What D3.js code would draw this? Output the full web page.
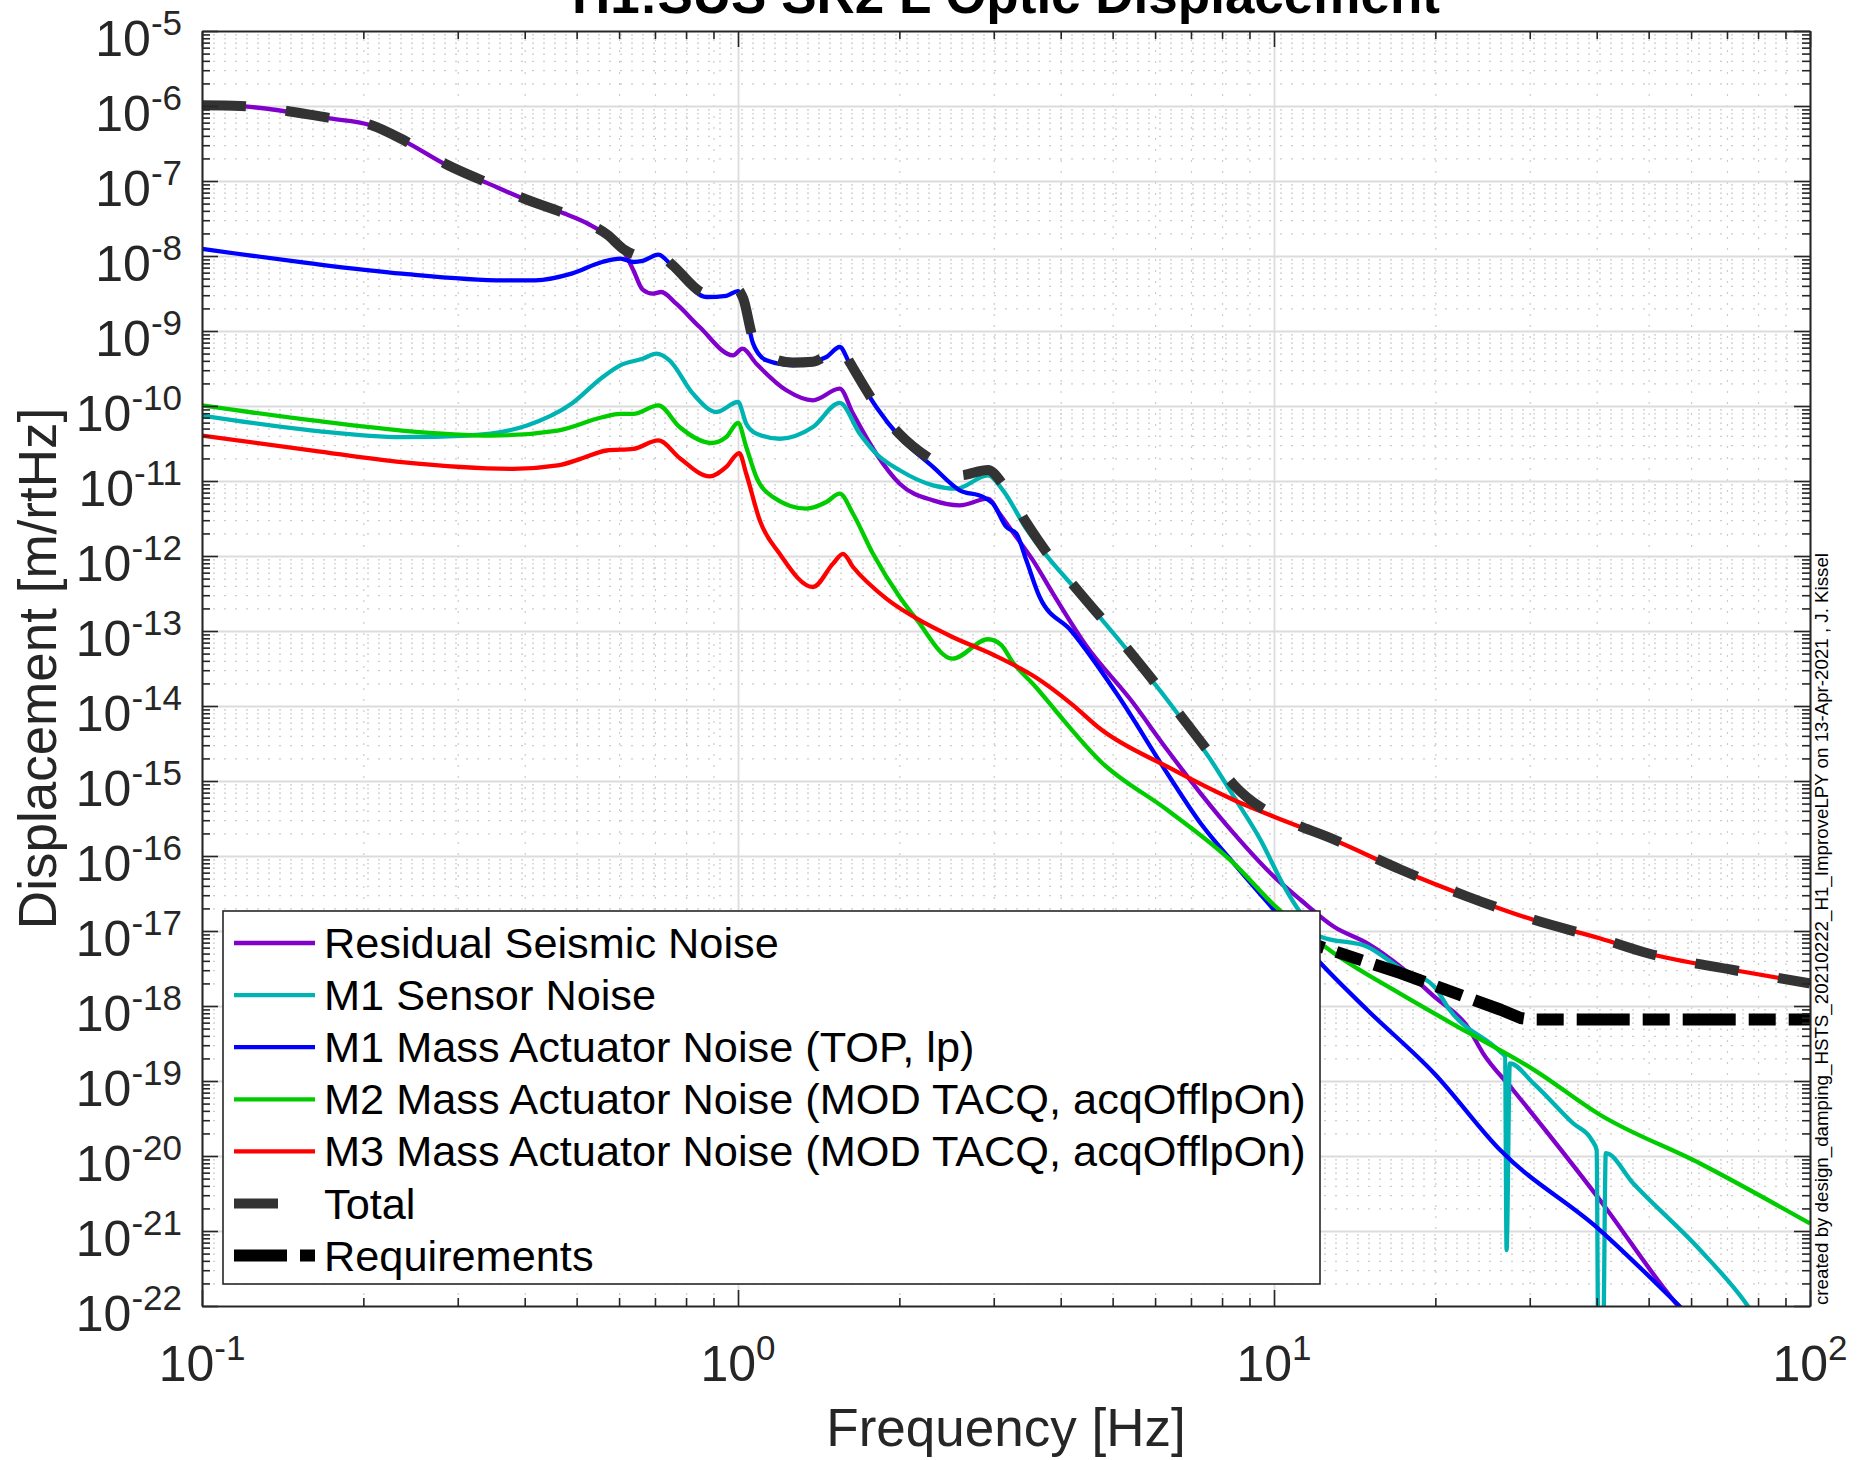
<!DOCTYPE html>
<html><head><meta charset="utf-8">
<script src="https://cdn.jsdelivr.net/npm/d3@7"></script>
<style>
html,body{margin:0;padding:0;background:#fff;}
svg{display:block;font-family:"Liberation Sans",Arial,Helvetica,sans-serif;}
</style></head><body>
<svg id="chart" width="1868" height="1460"></svg>
<script>
// ---------------- data ----------------
const titleText = "H1:SUS SR2 L Optic Displacement";
const xLabel = "Frequency [Hz]";
const yLabel = "Displacement [m/rtHz]";
const footText = "created by design_damping_HSTS_20210222_H1_ImproveLPY on 13-Apr-2021 , J. Kissel";

const xTickExps = [-1, 0, 1, 2];
const yTickExps = [-5,-6,-7,-8,-9,-10,-11,-12,-13,-14,-15,-16,-17,-18,-19,-20,-21,-22];

const legendLabels = [
  "Residual Seismic Noise",
  "M1 Sensor Noise",
  "M1 Mass Actuator Noise (TOP, lp)",
  "M2 Mass Actuator Noise (MOD TACQ, acqOfflpOn)",
  "M3 Mass Actuator Noise (MOD TACQ, acqOfflpOn)",
  "Total",
  "Requirements"
];

const seismicF = [0.1,0.118,0.173,0.206,0.240,0.286,0.340,0.404,0.474,0.527,0.569,0.615,0.638,0.664,0.693,0.719,0.767,0.848,0.979,1.019,1.082,1.231,1.380,1.548,1.639,1.811,2.003,2.311,2.592,2.927,3.077,3.306,3.551,3.870,4.467,5.408,6.324,7.295,8.414,10,11.22,12.94,14.93,17.22,19.91,22.96,24.55,27.93,40.55,55.59,60];
const seismicA = [1.04e-6,9.98e-7,6.82e-7,5.56e-7,3.33e-7,1.63e-7,9.44e-8,5.55e-8,3.68e-8,2.65e-8,1.89e-8,1.08e-8,6.46e-9,3.56e-9,3.15e-9,3.31e-9,2.31e-9,1.13e-9,4.74e-10,5.81e-10,3.66e-10,1.62e-10,1.19e-10,1.70e-10,7.91e-11,2.31e-11,9.20e-12,5.52e-12,4.74e-12,5.81e-12,3.66e-12,1.79e-12,8.75e-13,3.15e-13,6.31e-14,1.20e-14,2.59e-15,6.85e-16,2.00e-16,5.30e-17,2.59e-17,1.14e-17,6.85e-18,3.34e-18,1.33e-18,5.30e-19,2.34e-19,7.59e-20,2.59e-21,1.20e-22,6.31e-23];

const sensorF = [0.1,0.161,0.236,0.314,0.404,0.489,0.558,0.603,0.664,0.705,0.745,0.824,0.912,1.0,1.036,1.082,1.196,1.380,1.548,1.687,1.811,2.003,2.311,2.555,2.927,3.122,3.451,3.761,4.339,5.248,6.324,6.887,7.621,8.414,9.441,10.45,11.22,12.22,14.93,17.22,19.91,21.28,26.42,26.98,27.16,27.54,30.48,36.14,39.17,39.99,40.27,41.11,41.59,46.77,62.37,75.16,80];
const sensorA = [7.46e-11,4.71e-11,3.84e-11,4.04e-11,5.50e-11,1.07e-10,2.40e-10,3.48e-10,4.27e-10,4.99e-10,4.05e-10,1.46e-10,8.32e-11,1.13e-10,5.81e-11,4.28e-11,3.66e-11,5.25e-11,1.10e-10,4.28e-11,2.31e-11,1.39e-11,8.75e-12,7.91e-12,1.19e-11,7.52e-12,2.31e-12,1.02e-12,3.15e-13,6.31e-14,1.20e-14,5.30e-15,1.91e-15,6.18e-16,1.63e-16,3.90e-17,1.72e-17,8.39e-18,6.18e-18,3.16e-18,1.81e-18,8.85e-19,2.46e-19,2.11e-19,5.58e-22,1.72e-19,9.31e-20,2.73e-20,1.63e-20,1.20e-20,3.16e-23,3.16e-23,1.09e-20,4.33e-21,5.58e-22,1.20e-22,6.31e-23];

const m1F = [0.1,0.161,0.236,0.366,0.419,0.489,0.558,0.603,0.638,0.664,0.710,0.752,0.873,0.951,1.0,1.022,1.067,1.130,1.266,1.462,1.548,1.616,1.811,2.003,2.311,2.592,2.865,2.990,3.167,3.306,3.451,3.654,4.188,5.105,6.324,7.295,8.414,10,12.22,14.93,19.91,26.42,40.55,55.59,60];
const m1A = [1.25e-8,7.91e-9,5.82e-9,4.74e-9,4.74e-9,5.82e-9,8.32e-9,9.23e-9,8.32e-9,8.60e-9,1.04e-8,7.52e-9,2.84e-9,2.95e-9,3.41e-9,2.56e-9,6.78e-10,4.06e-10,3.48e-10,4.50e-10,6.12e-10,3.66e-10,9.70e-11,3.86e-11,1.54e-11,7.52e-12,6.12e-12,4.99e-12,2.44e-12,1.99e-12,8.75e-13,2.84e-13,1.00e-13,1.41e-14,1.26e-15,2.73e-16,7.98e-17,1.91e-17,3.71e-18,8.85e-19,1.26e-19,1.20e-20,1.03e-21,1.20e-22,7.0e-23];

const m2F = [0.1,0.161,0.236,0.346,0.461,0.558,0.603,0.638,0.710,0.778,0.891,0.951,1.0,1.036,1.082,1.162,1.341,1.462,1.548,1.639,1.786,2.003,2.15,2.512,2.927,3.1,3.243,3.597,3.9,4.753,6.324,8.414,10,12.94,17.22,22.96,30.55,40.55,62.37,100];
const m2A = [1.02e-10,6.41e-11,4.71e-11,4.04e-11,4.71e-11,7.08e-11,7.85e-11,7.85e-11,1.02e-10,5.25e-11,3.21e-11,3.86e-11,5.93e-11,2.84e-11,1.13e-11,6.12e-12,4.28e-12,5.25e-12,6.78e-12,3.66e-12,1.07e-12,2.84e-13,1.45e-13,4.27e-14,7.76e-14,6.5e-14,3.98e-14,1.78e-14,8.91e-15,1.81e-15,4.10e-16,7.98e-17,2.22e-17,5.04e-18,1.45e-18,4.47e-19,1.41e-19,3.55e-20,7.94e-21,1.26e-21];

const m3F = [0.1,0.161,0.236,0.381,0.461,0.508,0.569,0.638,0.710,0.78,0.885,0.951,1.005,1.036,1.098,1.196,1.380,1.504,1.570,1.639,1.891,2.239,2.512,3.0,3.597,4.188,4.753,6.324,8.414,10,12.94,17.22,22.96,30.55,40.64,50,71.94,100];
const m3A = [4.04e-11,2.55e-11,1.78e-11,1.45e-11,1.61e-11,1.97e-11,2.55e-11,2.68e-11,3.48e-11,2.00e-11,1.15e-11,1.54e-11,2.36e-11,1.25e-11,2.99e-12,1.07e-12,3.86e-13,7.91e-13,1.07e-12,7.13e-13,2.70e-13,1.26e-13,8.32e-14,4.79e-14,2.40e-14,1.07e-14,4.89e-15,1.55e-15,5.58e-16,3.34e-16,1.63e-16,6.50e-17,2.87e-17,1.40e-17,7.94e-18,5.01e-18,3.02e-18,2.00e-18];

const totalF = [0.1,0.118,0.173,0.206,0.240,0.286,0.340,0.404,0.474,0.527,0.569,0.615,0.646,0.664,0.710,0.752,0.873,0.951,1.0,1.022,1.067,1.130,1.266,1.380,1.462,1.548,1.616,1.811,2.003,2.311,2.592,2.927,3.122,3.451,3.761,4.339,5.248,6.324,7.621,8.414,9.441,10,12.94,17.22,22.96,30.55,40.64,50,71.94,100];
const totalA = [1.02e-6,1.0e-6,6.92e-7,5.62e-7,3.39e-7,1.66e-7,9.55e-8,5.62e-8,3.72e-8,2.69e-8,1.95e-8,1.20e-8,1.02e-8,9.6e-9,1.08e-8,7.76e-9,3.16e-9,3.1e-9,3.5e-9,2.75e-9,7.94e-10,4.8e-10,3.8e-10,3.9e-10,4.78e-10,6.45e-10,3.83e-10,1.02e-10,4.2e-11,1.86e-11,1.19e-11,1.4e-11,9.0e-12,2.79e-12,1.13e-12,3.25e-13,6.61e-14,1.26e-14,2.24e-15,8.91e-16,4.47e-16,3.55e-16,1.66e-16,6.61e-17,2.88e-17,1.41e-17,7.94e-18,5.01e-18,3.02e-18,2.0e-18];

const reqF = [10,12.22,17.22,26.49,28.84,29.99,100];
const reqA = [1.02e-17,6.17e-18,2.75e-18,8.91e-19,6.92e-19,6.61e-19,6.61e-19];

// ---------------- layout / styles ----------------
const W = 1868, H = 1460;
const plot = {left: 202, top: 31, right: 1810, bottom: 1306};
const axisColor = "#262626";

const series = [
  {f: seismicF, a: seismicA, color: "#8000cc", width: 4.3, dash: null, curve: d3.curveMonotoneX},
  {f: sensorF,  a: sensorA,  color: "#00b3b3", width: 4.3, dash: null, curve: d3.curveMonotoneX},
  {f: m1F,      a: m1A,      color: "#0000ff", width: 4.3, dash: null, curve: d3.curveMonotoneX},
  {f: m2F,      a: m2A,      color: "#00cc00", width: 4.3, dash: null, curve: d3.curveMonotoneX},
  {f: m3F,      a: m3A,      color: "#ff0000", width: 4.3, dash: null, curve: d3.curveMonotoneX},
  {f: totalF,   a: totalA,   color: "#333333", width: 10,  dash: "44,40", curve: d3.curveMonotoneX},
  {f: reqF,     a: reqA,     color: "#000000", width: 12,  dash: "53,13,27,13", curve: d3.curveLinear}
];

const svg = d3.select("#chart");
svg.append("rect").attr("width", W).attr("height", H).attr("fill", "#fff");

const x = d3.scaleLog().domain([0.1, 100]).range([plot.left, plot.right]);
const y = d3.scaleLog().domain([1e-22, 1e-5]).range([plot.bottom, plot.top]);

const xMajor = xTickExps.map(e => Math.pow(10, e));
const yMajor = yTickExps.map(e => Math.pow(10, e));
const xMinor = [];
for (let e = -1; e < 2; e++) for (let k = 2; k <= 9; k++) xMinor.push(k * Math.pow(10, e));
const yMinor = [];
for (let e = -22; e < -5; e++) for (let k = 2; k <= 9; k++) yMinor.push(k * Math.pow(10, e));

svg.append("defs").append("clipPath").attr("id", "plotClip")
  .append("rect").attr("x", plot.left).attr("y", plot.top)
  .attr("width", plot.right - plot.left).attr("height", plot.bottom - plot.top);

// ---------------- grid ----------------
function styleGrid(g, color, dash, w) {
  g.select(".domain").remove();
  g.selectAll(".tick line").attr("stroke", color).attr("stroke-width", w)
    .attr("stroke-dasharray", dash);
  g.selectAll(".tick text").remove();
}
const ph = plot.bottom - plot.top, pw = plot.right - plot.left;
svg.append("g").attr("transform", `translate(0,${plot.bottom})`)
  .call(d3.axisBottom(x).tickValues(xMinor).tickSize(-ph).tickFormat(""))
  .call(g => styleGrid(g, "#cccccc", "2,9", 1.2));
svg.append("g").attr("transform", `translate(${plot.left},0)`)
  .call(d3.axisLeft(y).tickValues(yMinor).tickSize(-pw).tickFormat(""))
  .call(g => styleGrid(g, "#cccccc", "2,9", 1.2));
svg.append("g").attr("transform", `translate(0,${plot.bottom})`)
  .call(d3.axisBottom(x).tickValues(xMajor).tickSize(-ph).tickFormat(""))
  .call(g => styleGrid(g, "#dcdcdc", null, 1.8));
svg.append("g").attr("transform", `translate(${plot.left},0)`)
  .call(d3.axisLeft(y).tickValues(yMajor).tickSize(-pw).tickFormat(""))
  .call(g => styleGrid(g, "#dcdcdc", null, 1.8));

// ---------------- lines ----------------
const gLines = svg.append("g").attr("clip-path", "url(#plotClip)");
series.forEach(s => {
  const pts = s.f.map((f, i) => [f, s.a[i]]);
  const line = d3.line().x(d => x(d[0])).y(d => y(d[1])).curve(s.curve);
  gLines.append("path").datum(pts).attr("d", line)
    .attr("fill", "none").attr("stroke", s.color).attr("stroke-width", s.width)
    .attr("stroke-dasharray", s.dash).attr("stroke-linejoin", "round")
    .attr("stroke-linecap", "butt");
});

// ---------------- axes (ticks inside, box) ----------------
function styleAxis(g) {
  g.select(".domain").attr("stroke", axisColor).attr("stroke-width", 1.6);
  g.selectAll(".tick line").attr("stroke", axisColor).attr("stroke-width", 1.6);
  g.selectAll(".tick text").remove();
}
const axes = [
  [d3.axisBottom, `translate(0,${plot.bottom})`, x],
  [d3.axisTop, `translate(0,${plot.top})`, x],
  [d3.axisLeft, `translate(${plot.left},0)`, y],
  [d3.axisRight, `translate(${plot.right},0)`, y]
];
axes.forEach(([fn, tr, sc]) => {
  const minor = sc === x ? xMinor : yMinor;
  const major = sc === x ? xMajor : yMajor;
  svg.append("g").attr("transform", tr)
    .call(fn(sc).tickValues(minor).tickSize(-8).tickSizeOuter(0).tickFormat(""))
    .call(styleAxis);
  svg.append("g").attr("transform", tr)
    .call(fn(sc).tickValues(major).tickSize(-16).tickSizeOuter(0).tickFormat(""))
    .call(styleAxis);
});

// ---------------- tick labels ----------------
const baseSize = 50, expSize = 35, expRise = 21;
yTickExps.forEach(e => {
  const t = svg.append("text").attr("x", plot.left - 20).attr("y", y(Math.pow(10, e)) + 25)
    .attr("text-anchor", "end").attr("fill", axisColor);
  t.append("tspan").attr("font-size", baseSize).text("10");
  t.append("tspan").attr("font-size", expSize).attr("dy", -expRise).text(String(e));
});
xTickExps.forEach(e => {
  const t = svg.append("text").attr("x", x(Math.pow(10, e))).attr("y", 1381)
    .attr("text-anchor", "middle").attr("fill", axisColor);
  t.append("tspan").attr("font-size", baseSize).text("10");
  t.append("tspan").attr("font-size", expSize).attr("dy", -expRise).text(String(e));
});

// ---------------- axis labels / title ----------------
svg.append("text").attr("x", (plot.left + plot.right) / 2).attr("y", 1446)
  .attr("text-anchor", "middle").attr("font-size", 53).attr("fill", axisColor).text(xLabel);
svg.append("text").attr("transform", `translate(56,${(plot.top + plot.bottom) / 2}) rotate(-90)`)
  .attr("text-anchor", "middle").attr("font-size", 53).attr("fill", axisColor).text(yLabel);
svg.append("text").attr("x", (plot.left + plot.right) / 2).attr("y", 13)
  .attr("text-anchor", "middle").attr("font-size", 53).attr("font-weight", "bold")
  .attr("fill", "#000").text(titleText);
svg.append("text").attr("transform", `translate(1828,1305) rotate(-90)`)
  .attr("text-anchor", "start").attr("font-size", 19).attr("fill", "#000")
  .attr("textLength", 752).attr("lengthAdjust", "spacingAndGlyphs").text(footText);

// ---------------- legend ----------------
const leg = {x0: 223, y0: 911, x1: 1320, y1: 1284, row0: 943, rowStep: 52.1, lx0: 234, lx1: 315, tx: 324};
const gLeg = svg.append("g");
gLeg.append("rect").attr("x", leg.x0).attr("y", leg.y0)
  .attr("width", leg.x1 - leg.x0).attr("height", leg.y1 - leg.y0)
  .attr("fill", "#fff").attr("stroke", axisColor).attr("stroke-width", 1.6);
legendLabels.forEach((lab, i) => {
  const s = series[i];
  const cy = leg.row0 + i * leg.rowStep;
  gLeg.append("line").attr("x1", leg.lx0).attr("x2", leg.lx1).attr("y1", cy).attr("y2", cy)
    .attr("stroke", s.color).attr("stroke-width", s.width).attr("stroke-dasharray", s.dash);
  gLeg.append("text").attr("x", leg.tx).attr("y", cy + 15).attr("font-size", 43.3)
    .attr("fill", "#000").text(lab);
});
</script>
</body></html>
